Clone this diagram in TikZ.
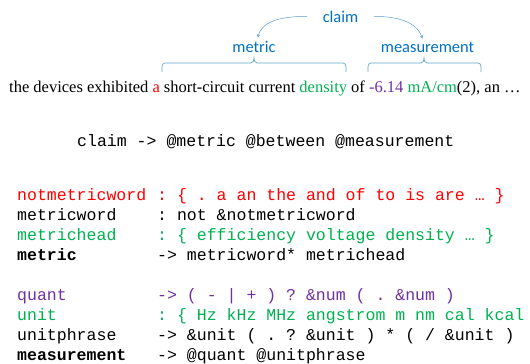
\documentclass[tikz,border=0pt]{standalone}
\usepackage{fontspec}
\setmainfont{Liberation Serif}
\setmonofont{Liberation Mono}
\newfontfamily\labelfont{Carlito}
\definecolor{wred}{HTML}{FF0000}
\definecolor{wgreen}{HTML}{00B050}
\definecolor{wpurple}{HTML}{7030A0}
\definecolor{lblue}{HTML}{0070C0}
\definecolor{lineblue}{HTML}{5B9BD5}
\definecolor{braceblue}{HTML}{5FA8C8}
\tikzset{
  lbl/.style={font=\labelfont\fontsize{16.5}{18}\selectfont, text=lblue, inner sep=0pt, anchor=base},
  sent/.style={font=\fontsize{16.55}{19}\selectfont, inner sep=0pt, anchor=base west},
  code/.style={font=\ttfamily\fontsize{16.6}{20}\selectfont, inner sep=0pt, anchor=base west},
  arr/.style={->, >=stealth, line width=0.5bp, lineblue, shorten >=3bp},
  brc/.style={line width=0.7bp, braceblue}
}
\begin{document}
\begin{tikzpicture}[x=1bp,y=-1bp]
  \useasboundingbox (0,0) rectangle (530,363);

  \node[lbl, inner xsep=15.5bp] (claim) at (340.5,22) {claim};
  \node[lbl] (metric) at (254,52) {metric};
  \node[lbl] (measure) at (427.5,52) {measurement};

  \draw [arr] (claim.west) to[out=180,in=75] ([xshift=3bp]metric.north);
  \draw [arr] (claim.east) to[out=0,in=110] ([xshift=-4bp]measure.north);

  % braces under the two labels
  \draw [brc] (162,72) to[out=90,in=180] (165,63) -- (251,63) to[out=0,in=-90] (254,58)
    to[out=-90,in=180] (257,63) -- (343,63) to[out=0,in=90] (346,72);
  \draw [brc] (368,72) to[out=90,in=180] (371,63) -- (421,63) to[out=0,in=-90] (424,58)
    to[out=-90,in=180] (427,63) -- (478,63) to[out=0,in=90] (481,72);

  \node[sent] (sentence) at (9,92) {the devices exhibited \textcolor{wred}{a} short-circuit current
    \textcolor{wgreen}{density} of \textcolor{wpurple}{-6.14} \textcolor{wgreen}{mA/cm}(2), an …};

  \node[code] (claimrule) at (77,146) {claim -> @metric @between @measurement};

  \node[code, wred] (n1) at (17,200) {notmetricword};
  \node[code, wred] (r1) at (157,200) {: \{ . a an the and of to is are … \}};
  \node[code] (n2) at (17,220) {metricword};
  \node[code] (r2) at (157,220) {: not \&notmetricword};
  \node[code, wgreen] (n3) at (17,240) {metrichead};
  \node[code, wgreen] (r3) at (157,240) {: \{ efficiency voltage density … \}};
  \node[code] (n4) at (17,260) {\bfseries metric};
  \node[code] (r4) at (157,260) {-> metricword* metrichead};

  \node[code, wpurple] (n5) at (17,300) {quant};
  \node[code, wpurple] (r5) at (157,300) {-> ( - | + ) ? \&num ( . \&num )};
  \node[code, wgreen] (n6) at (17,320) {unit};
  \node[code, wgreen] (r6) at (157,320) {: \{ Hz kHz MHz angstrom m nm cal kcal};
  \node[code] (n7) at (17,340) {unitphrase};
  \node[code] (r7) at (157,340) {-> \&unit ( . ? \&unit ) * ( / \&unit )};
  \node[code] (n8) at (17,360) {\bfseries measurement};
  \node[code] (r8) at (157,360) {-> @quant @unitphrase};
\end{tikzpicture}
\end{document}
